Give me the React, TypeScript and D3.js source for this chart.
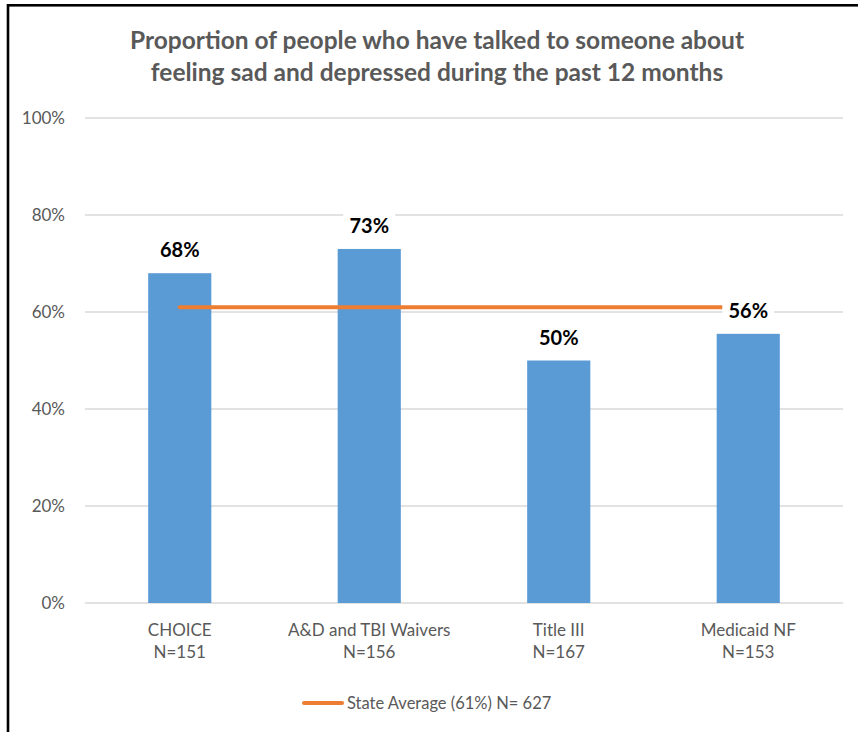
import React from "react";
import * as d3 from "d3";

const categories = ["CHOICE", "A&D and TBI Waivers", "Title III", "Medicaid NF"];
const sampleSizes = ["N=151", "N=156", "N=167", "N=153"];
const values = [0.68, 0.73, 0.5, 0.555];
const valueLabels = ["68%", "73%", "50%", "56%"];
const stateAverage = 0.61;
const yTicks = [0, 0.2, 0.4, 0.6, 0.8, 1.0];
const titleLines = [
  "Proportion of people who have talked to someone about",
  "feeling sad and depressed during the past 12 months",
];
const legendLabel = "State Average (61%) N= 627";

const W = 858;
const H = 732;
const FONT = "Lato, 'Open Sans', sans-serif";
const BLUE = "#5B9BD5";
const ORANGE = "#ED7D31";
const GRAY = "#595959";

export default function App() {
  const plot = { left: 85, right: 843, top: 118, bottom: 603 };
  const x = d3
    .scaleBand<string>()
    .domain(categories)
    .range([plot.left, plot.right])
    .paddingInner(2 / 3)
    .paddingOuter(1 / 3);
  const y = d3.scaleLinear().domain([0, 1]).range([plot.bottom, plot.top]);
  const bw = x.bandwidth();
  const cx = (c: string) => (x(c) as number) + bw / 2;

  const line = d3
    .line<string>()
    .x((c) => cx(c))
    .y(() => y(stateAverage));

  return (
    <svg
      width={W}
      height={H}
      style={{ position: "absolute", left: 0, top: 0, background: "#fff" }}
      fontFamily={FONT}
    >
      <rect x={0} y={0} width={W} height={H} fill="#fff" />
      <rect
        x={8}
        y={5.3}
        width={W + 20}
        height={H + 20}
        fill="none"
        stroke="#000"
        strokeWidth={2.6}
      />
      {/* Title */}
      {titleLines.map((t, i) => (
        <text
          key={i}
          x={437}
          y={48.5 + i * 32.5}
          textAnchor="middle"
          fontSize={24.5}
          fontWeight="bold"
          fill={GRAY}
        >
          {t}
        </text>
      ))}
      {/* Gridlines */}
      {yTicks.map((t) => (
        <g key={t}>
          <line
            x1={plot.left}
            x2={plot.right}
            y1={y(t)}
            y2={y(t)}
            stroke="#D9D9D9"
            strokeWidth={1.5}
          />
          <text
            x={65}
            y={y(t)}
            dy="0.36em"
            textAnchor="end"
            fontSize={17}
            fill={GRAY}
          >
            {d3.format(".0%")(t)}
          </text>
        </g>
      ))}
      {/* Bars */}
      {categories.map((c, i) => (
        <rect
          key={c}
          x={x(c)}
          y={y(values[i])}
          width={bw}
          height={y(0) - y(values[i])}
          fill={BLUE}
        />
      ))}
      {/* State average line */}
      <path
        d={line(categories) || ""}
        stroke={ORANGE}
        strokeWidth={4}
        strokeLinecap="round"
        fill="none"
      />
      {/* Data labels */}
      {categories.map((c, i) => {
        const by = y(values[i]) - 16;
        return (
          <g key={c}>
            <rect x={cx(c) - 26} y={by - 19} width={52} height={24} fill="#fff" />
            <text
              x={cx(c)}
              y={by}
              textAnchor="middle"
              fontSize={20}
              fontWeight="bold"
              fill="#000"
            >
              {valueLabels[i]}
            </text>
          </g>
        );
      })}
      {/* Category labels */}
      {categories.map((c, i) => (
        <g key={c} fontSize={17} fill={GRAY} textAnchor="middle">
          <text x={cx(c)} y={636}>
            {c}
          </text>
          <text x={cx(c)} y={658}>
            {sampleSizes[i]}
          </text>
        </g>
      ))}
      {/* Legend */}
      <line
        x1={304}
        x2={342}
        y1={703}
        y2={703}
        stroke={ORANGE}
        strokeWidth={4}
        strokeLinecap="round"
      />
      <text x={347} y={703} dy="0.36em" fontSize={16.5} fill={GRAY}>
        {legendLabel}
      </text>
    </svg>
  );
}
